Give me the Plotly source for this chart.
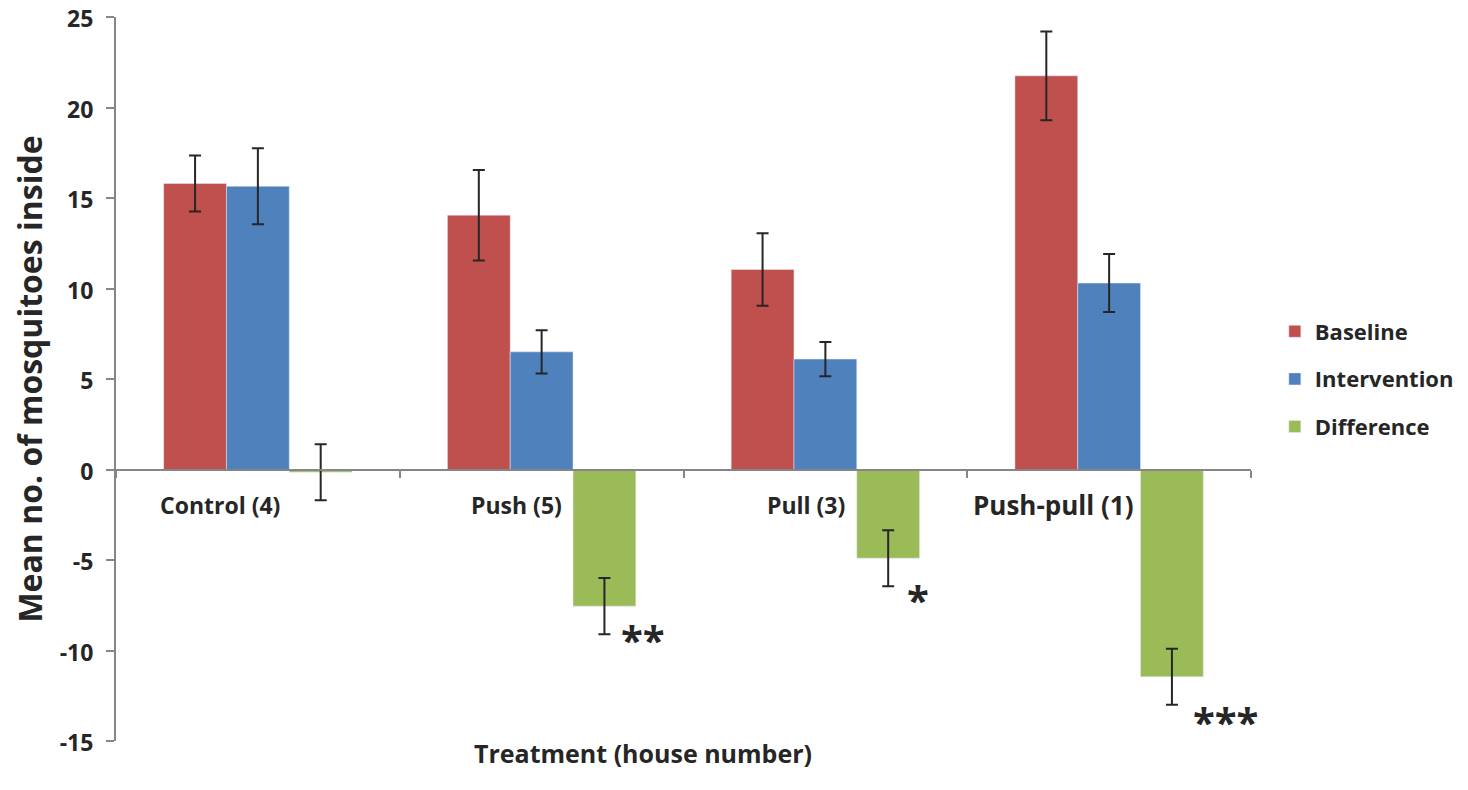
import plotly.graph_objects as go

categories = ["Control (4)", "Push (5)", "Pull (3)", "Push-pull (1)"]
baseline = [15.8, 14.05, 11.05, 21.75]
baseline_err = [1.55, 2.5, 2.0, 2.45]
intervention = [15.65, 6.5, 6.1, 10.3]
intervention_err = [2.1, 1.2, 0.95, 1.6]
difference = [-0.15, -7.55, -4.9, -11.45]
difference_err = [1.55, 1.55, 1.55, 1.55]
significance = ["", "**", "*", "***"]
y_ticks = [-15, -10, -5, 0, 5, 10, 15, 20, 25]
y_tick_text = ["-15", "-10", "-5", "0", "5", "10", "15", "20", "25"]

RED = "#C0504D"
BLUE = "#4F81BD"
GREEN = "#9BBB59"
TXT = "#262626"
AX = "#868686"
FONT = "Open Sans"

def err(vals):
    return dict(type="data", array=vals, visible=True, color=TXT, thickness=2, width=6)

fig = go.Figure()
for name, vals, errs, col in [("Baseline", baseline, baseline_err, RED),
                              ("Intervention", intervention, intervention_err, BLUE),
                              ("Difference", difference, difference_err, GREEN)]:
    fig.add_trace(go.Bar(name=name, x=categories, y=vals, marker_color=col,
                         legendgroup=name, error_y=err(errs)))

# category labels (placed just under the zero axis)
label_shift = [-38, -25, -19, -56]
label_size = [23, 23, 23, 26]
for c, s, fs in zip(categories, label_shift, label_size):
    fig.add_annotation(x=c, y=-1.95, xref="x", yref="y", text=f"<b>{c}</b>", showarrow=False,
                       xshift=s, font=dict(family=FONT, size=fs, color=TXT))

# significance stars
star_shift = [0, 101, 93, 116]
star_y = [0, -9.4, -7.2, -13.9]
for c, s, sx, sy in zip(categories, significance, star_shift, star_y):
    if s:
        fig.add_annotation(x=c, y=sy, xref="x", yref="y", text=f"<b>{s}</b>", showarrow=False,
                           xshift=sx, font=dict(family=FONT, size=40, color=TXT))

fig.add_annotation(x=(643 - 116) / 1135, y=(741 - 772) / 724, xref="paper", yref="paper",
                   text="<b>Treatment (house number)</b>",
                   showarrow=False, font=dict(family=FONT, size=25, color=TXT))

fig.update_layout(
    width=1468, height=790,
    margin=dict(l=108, r=225, t=9, b=57, autoexpand=False),
    plot_bgcolor="white", paper_bgcolor="white",
    barmode="group", bargap=0.336, bargroupgap=0,
    font=dict(family=FONT, color=TXT),
    legend=dict(x=1.021, y=0.5, xanchor="left", yanchor="middle",
                font=dict(family=FONT, size=22, color=TXT, weight="bold"),
                itemwidth=30, tracegroupgap=16, traceorder="grouped"),
    xaxis=dict(anchor="free", position=0.375, range=[-0.5, 3.5], autorange=False,
               showline=True, linecolor=AX, linewidth=2,
               ticks="outside", tickson="boundaries", ticklen=7, tickcolor=AX, tickwidth=2,
               showticklabels=False, showgrid=False, zeroline=False, automargin=False),
    yaxis=dict(range=[-15, 25], tickvals=y_ticks, ticktext=y_tick_text, showline=True,
               linecolor=AX, linewidth=2, automargin=False, ticklabeloverflow="allow",
               ticklabelshift=2, ticklabelstandoff=8,
               ticks="outside", ticklen=8, tickcolor=AX, tickwidth=2, showgrid=False,
               zeroline=False,
               tickfont=dict(family=FONT, size=23, color=TXT, weight="bold"),
               title=dict(text="<b>Mean no. of mosquitoes inside</b>", standoff=15,
                          font=dict(family=FONT, size=32, color=TXT))),
)

fig.write_html("out.html")
